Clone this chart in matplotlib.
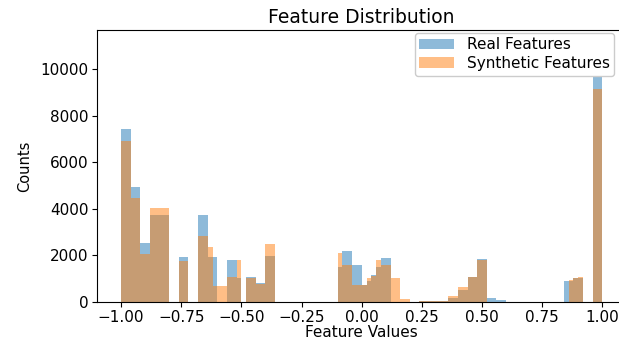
import numpy as np
import matplotlib
matplotlib.use("Agg")
import matplotlib.pyplot as plt

# ---- data (counts per 0.02-wide bin, from -1.00 to 1.00) ----
bin_lo = -1.0
bin_hi = 1.0
n_bins = 100

real_counts = [
    7420, 7420, 4950, 4950, 2540, 2540, 3730, 3730, 3730, 3730,   # -1.00 .. -0.82
    0, 0, 1910, 1910, 0, 0, 3720, 3720, 1910, 1910,               # -0.80 .. -0.62
    0, 0, 1795, 1795, 1000, 0, 1065, 1065, 790, 790,              # -0.60 .. -0.42
    1965, 1965, 0, 0, 0, 0, 0, 0, 0, 0,                           # -0.40 .. -0.22
    0, 0, 0, 0, 0, 1500, 2170, 2170, 1600, 1600,                  # -0.20 .. -0.02
    700, 900, 1150, 1500, 1900, 1900, 0, 0, 0, 0,                 #  0.00 ..  0.18
    0, 0, 50, 50, 50, 50, 50, 50, 150, 150,                       #  0.20 ..  0.38
    500, 500, 1075, 1075, 1830, 1830, 145, 145, 60, 60,           #  0.40 ..  0.58
    0, 0, 0, 0, 0, 0, 0, 0, 0, 0,                                 #  0.60 ..  0.78
    0, 0, 890, 900, 1040, 1000, 0, 0, 11130, 11130,               #  0.80 ..  0.98
]

synthetic_counts = [
    6930, 6930, 4475, 4475, 2040, 2040, 4020, 4020, 4020, 4020,
    0, 0, 1765, 1765, 0, 0, 2830, 2830, 2340, 675,
    675, 675, 1075, 1075, 1795, 0, 1040, 1040, 770, 770,
    2480, 2480, 0, 0, 0, 0, 0, 0, 0, 0,
    0, 0, 0, 0, 0, 2100, 1600, 1600, 730, 730,
    730, 1035, 1100, 1795, 1600, 1600, 1000, 1000, 120, 120,
    0, 0, 40, 40, 40, 40, 40, 40, 245, 245,
    620, 620, 1075, 1075, 1800, 1800, 0, 0, 0, 0,
    0, 0, 0, 0, 0, 0, 0, 0, 0, 0,
    0, 0, 0, 930, 1000, 1075, 0, 0, 9150, 9150,
]

series_labels = ["Real Features", "Synthetic Features"]
x_ticks = [-1.00, -0.75, -0.50, -0.25, 0.00, 0.25, 0.50, 0.75, 1.00]
y_ticks = [0, 2000, 4000, 6000, 8000, 10000]

# ---- figure ----
W, H = 619, 343
fig = plt.figure(figsize=(W / 100, H / 100), dpi=100)
ax = fig.add_axes([97 / W, (H - 301.7) / H, (626.4 - 97) / W, (301.7 - 30) / H])

edges = np.linspace(bin_lo, bin_hi, n_bins + 1)
centers = (edges[:-1] + edges[1:]) / 2

ax.hist(centers, bins=edges, weights=real_counts, alpha=0.5, color="C0",
        label=series_labels[0])
ax.hist(centers, bins=edges, weights=synthetic_counts, alpha=0.5, color="C1",
        label=series_labels[1])

ax.set_xticks(x_ticks)
ax.set_xticklabels([f"{v:.2f}".replace("-", "\u2212") for v in x_ticks])
ax.set_yticks(y_ticks)
ax.tick_params(labelsize=11, pad=2.5)

ax.set_title("Feature Distribution", fontsize=13.5, pad=5)
ax.set_xlabel("Feature Values", fontsize=11, labelpad=0)
ax.set_ylabel("Counts", fontsize=10.5, labelpad=6)

ax.legend(loc="upper right", bbox_to_anchor=(0.977, 0.99), borderaxespad=0,
          fontsize=11, handlelength=2.3, labelspacing=0.25, borderpad=0.3,
          framealpha=1.0)

fig.savefig("out.png", dpi=100)
